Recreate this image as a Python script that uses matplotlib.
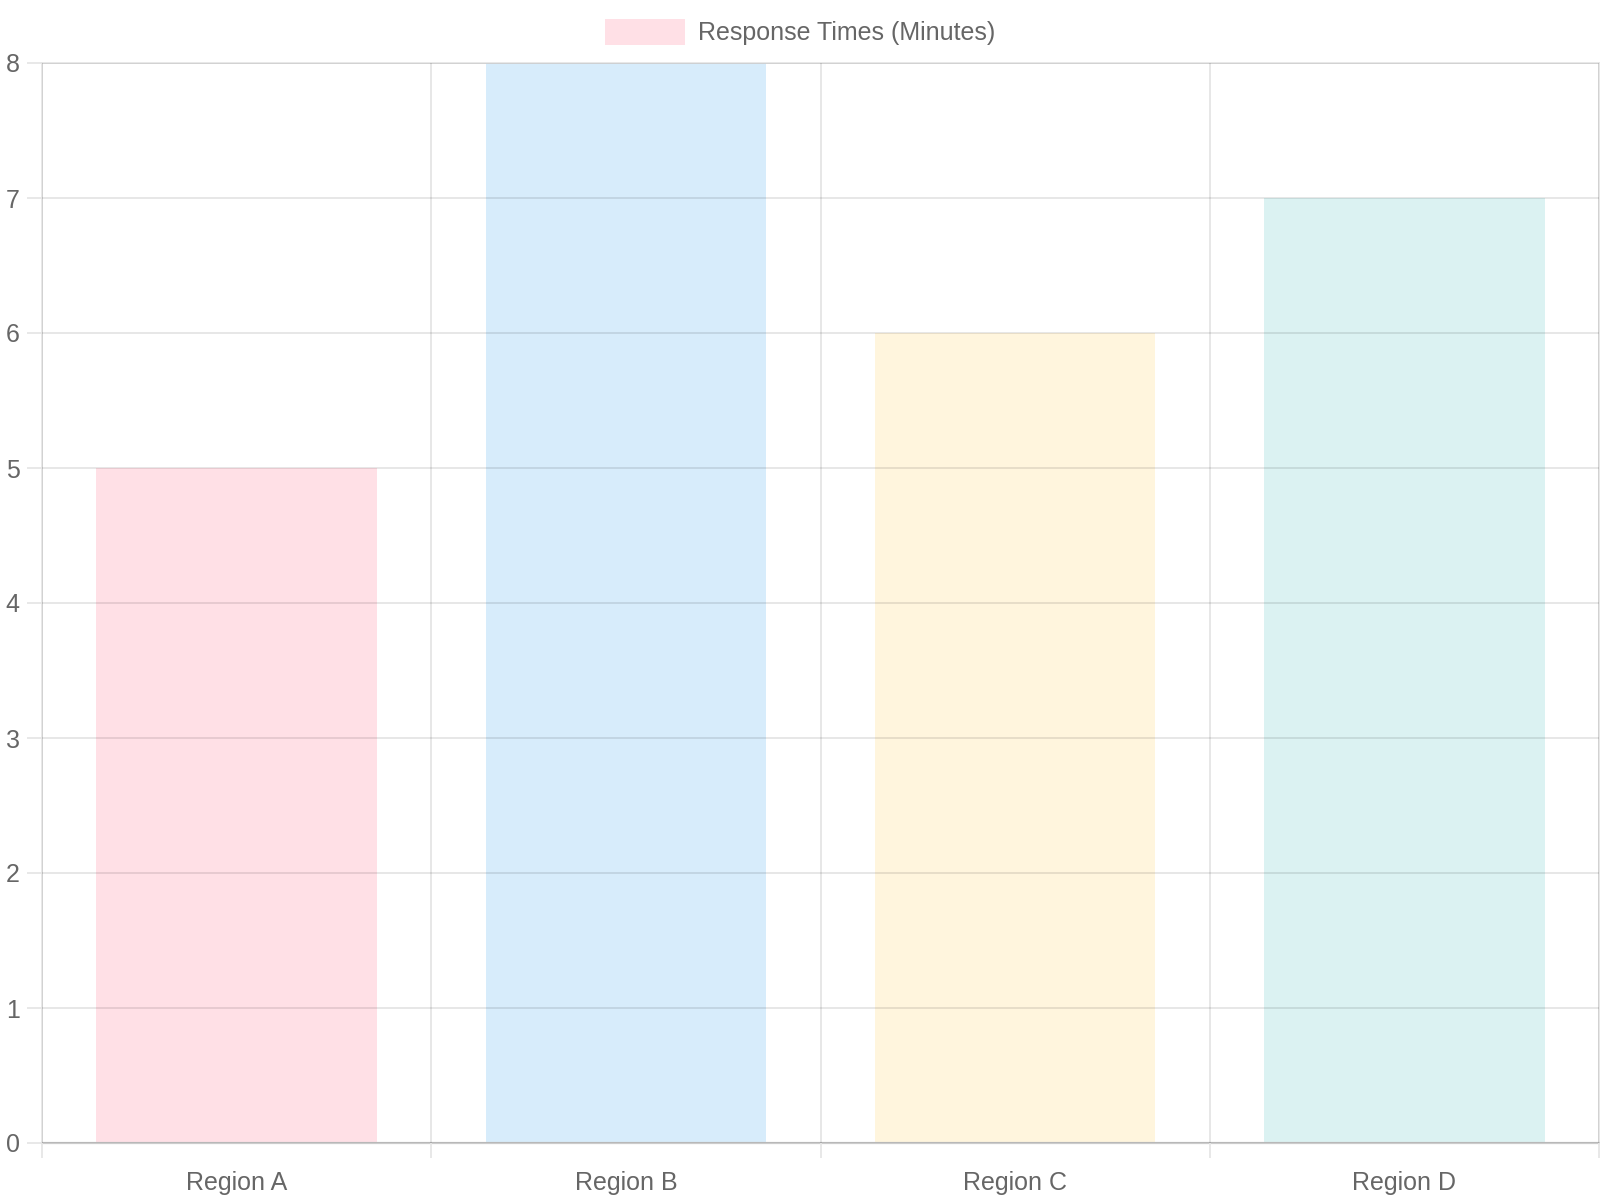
import numpy as np
import matplotlib.pyplot as plt
from matplotlib.patches import Patch

# Data
regions = ["Region A", "Region B", "Region C", "Region D"]
times = [5, 8, 6, 7]
colors = ["#FFE0E6", "#D7ECFB", "#FFF5DD", "#DBF2F2"]
legend_label = "Response Times (Minutes)"

plt.rcParams['font.family'] = ['Liberation Sans', 'DejaVu Sans']
grid_c = "#e6e6e6"
text_c = "#666666"

fig = plt.figure(figsize=(16, 12), dpi=100)
ax = fig.add_axes([42 / 1600, 57 / 1200, 1557 / 1600, 1080 / 1200])

x = np.arange(len(regions))
ax.bar(x, times, width=0.72, color=colors, zorder=1)

ax.set_xlim(-0.5, len(regions) - 0.5)
ax.set_ylim(0, 8)
ax.set_yticks(range(0, 9))

# category boundaries as vertical grid
ax.set_xticks(x)
ax.set_xticklabels(regions)
ax.set_xticks(np.arange(-0.5, len(regions)), minor=True)
ax.tick_params(axis='x', which='major', length=0, pad=20, labelsize=18, labelcolor=text_c)
ax.tick_params(axis='x', which='minor', length=11, width=1.3, color=grid_c)
ax.tick_params(axis='y', length=11, width=1.3, color=grid_c, pad=5, labelsize=18, labelcolor=text_c)

ax.grid(axis='y', color="#000000", alpha=0.1, lw=1.3, zorder=2)
ax.grid(axis='x', which='minor', color="#000000", alpha=0.1, lw=1.3, zorder=2)
ax.set_axisbelow(False)

for s in ['top', 'right', 'left']:
    ax.spines[s].set_color(grid_c)
    ax.spines[s].set_linewidth(1.3)
ax.spines['bottom'].set_color("#cccccc")
ax.spines['bottom'].set_linewidth(1.6)

handle = Patch(facecolor=colors[0], edgecolor='none')
fig.legend([handle], [legend_label], loc='center', bbox_to_anchor=(0.5, 1 - 32 / 1200),
           frameon=False, fontsize=18, labelcolor=text_c, handlelength=3.2, handleheight=1.2,
           handletextpad=0.5)

fig.savefig("out.png", dpi=100)
